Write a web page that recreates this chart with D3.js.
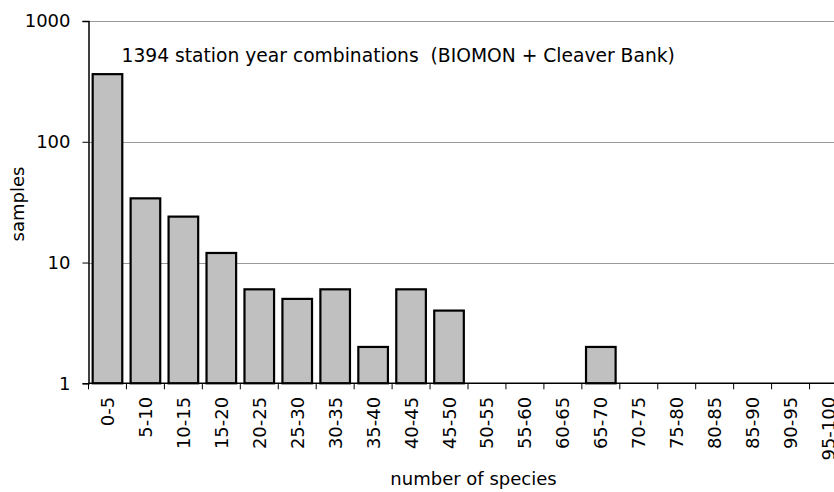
<!DOCTYPE html>
<meta charset="utf-8">
<head>
<style>
  body { margin: 0; background: #fff; }
  svg { display: block; }
  text { font-family: "DejaVu Sans", Verdana, sans-serif; fill: #000; font-size: 18px; }
  .grid line { stroke: #999; stroke-width: 1; }
  .bar { fill: #c0c0c0; stroke: #000; stroke-width: 2.2; }
</style>
</head>
<body>
<svg id="chart" width="834" height="492"></svg>
<script src="https://d3js.org/d3.v7.min.js"></script>
<script>
  // class labels and counts (0 = nothing drawn on the log axis)
  var classes = ["0-5","5-10","10-15","15-20","20-25","25-30","30-35","35-40","40-45","45-50",
                 "50-55","55-60","60-65","65-70","70-75","75-80","80-85","85-90","90-95","95-100"];
  var samples = [363, 34, 24, 12, 6, 5, 6, 2, 6, 4, 0, 0, 0, 2, 0, 0, 0, 0, 0, 0];
  var yTicks = [1, 10, 100, 1000];

  var svg = d3.select("#chart");
  var mLeft = 88.5, mTop = 21, mBottom = 383.3;
  var bandW = 37.95;
  var mRight = mLeft + bandW * classes.length;   // runs past the window, as in the original

  var x = d3.scaleBand().domain(classes).range([mLeft, mRight]).paddingInner(0.22).paddingOuter(0.11);
  var y = d3.scaleLog().domain([1, 1000]).range([mBottom, mTop]);

  // grid lines
  svg.append("g").attr("class", "grid")
    .selectAll("line").data(yTicks.slice(1)).join("line")
      .attr("x1", mLeft).attr("x2", mRight)
      .attr("y1", function (d) { return Math.round(y(d)) + 0.5; })
      .attr("y2", function (d) { return Math.round(y(d)) + 0.5; });

  // bars
  svg.append("g").selectAll("rect")
    .data(classes.map(function (c, i) { return {c: c, v: samples[i]}; }).filter(function (d) { return d.v > 0; }))
    .join("rect")
      .attr("class", "bar")
      .attr("x", function (d) { return x(d.c); })
      .attr("width", x.bandwidth())
      .attr("y", function (d) { return y(d.v); })
      .attr("height", function (d) { return mBottom - y(d.v); });

  // y axis
  var yAxis = d3.axisLeft(y).tickValues(yTicks).tickFormat(d3.format("d")).tickSize(6).tickPadding(12);
  var gy = svg.append("g").attr("transform", "translate(" + mLeft + ",0)").call(yAxis);
  gy.select(".domain").attr("stroke", "#000").attr("stroke-width", 1.5);
  gy.selectAll(".tick line").attr("stroke", "#000");
  gy.selectAll(".tick text").style("font-size", "18px").attr("fill", "#000");

  // x axis with ticks on band edges
  svg.append("line").attr("x1", mLeft).attr("x2", mRight).attr("y1", mBottom).attr("y2", mBottom)
    .attr("stroke", "#000").attr("stroke-width", 1.5);
  svg.append("g").selectAll("line")
    .data(d3.range(classes.length + 1)).join("line")
      .attr("x1", function (i) { return mLeft + i * bandW; })
      .attr("x2", function (i) { return mLeft + i * bandW; })
      .attr("y1", mBottom).attr("y2", mBottom + 6)
      .attr("stroke", "#000");

  svg.append("g").selectAll("text")
    .data(classes).join("text")
      .attr("transform", function (d) {
        return "translate(" + (x(d) + x.bandwidth() / 2 + 6.5) + "," + (mBottom + 13.5) + ") rotate(-90)";
      })
      .attr("text-anchor", "end")
      .text(function (d) { return d; });

  // titles
  svg.append("text")
    .attr("x", 473.5).attr("y", 485)
    .attr("text-anchor", "middle")
    .text("number of species");

  svg.append("text")
    .attr("transform", "translate(24,204) rotate(-90)")
    .attr("text-anchor", "middle")
    .text("samples");

  svg.append("text")
    .attr("x", 121.5).attr("y", 62)
    .style("white-space", "pre")
    .style("font-size", "18.7px")
    .text("1394 station year combinations  (BIOMON + Cleaver Bank)");
</script>
</body>
